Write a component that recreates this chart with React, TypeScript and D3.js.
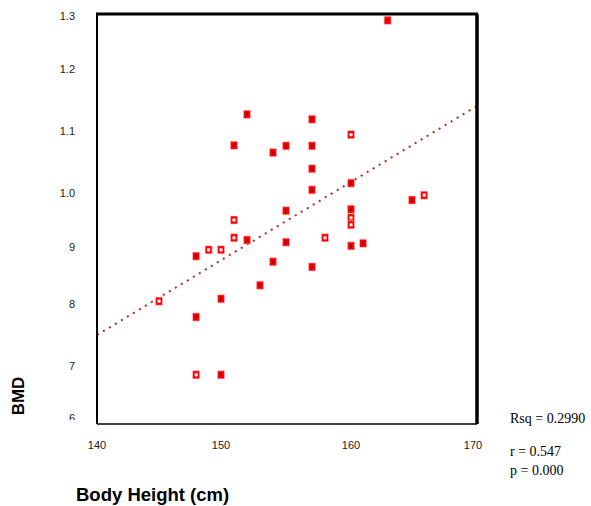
import * as d3 from "d3";

// body height (cm) and BMD
const heights = [
  163, 152, 151, 154, 155, 157, 157, 160, 157, 157, 160, 155, 151, 151, 152,
  155, 158, 160, 160, 160, 160, 161, 165, 166, 148, 149, 150, 154, 157, 153,
  145, 150, 148, 148, 150,
];
const bmd = [
  1.292, 1.127, 1.077, 1.065, 1.076, 1.119, 1.076, 1.094, 1.039, 1.005, 1.016,
  0.967, 0.95, 0.917, 0.913, 0.909, 0.917, 0.97, 0.954, 0.941, 0.902, 0.907,
  0.987, 0.996, 0.884, 0.895, 0.895, 0.874, 0.865, 0.833, 0.805, 0.809, 0.779,
  0.683, 0.683,
];
// open (hollow) markers
const openMarker = [
  false, false, false, false, false, false, false, true, false, false, false,
  false, true, true, false, false, true, false, true, true, false, false,
  false, true, false, true, true, false, false, false, true, false, false,
  true, false,
];

const xTicks = [140, 150, 160, 170];
const yTicks = [0.6, 0.7, 0.8, 0.9, 1.0, 1.1, 1.2, 1.3];
const yTickLabels = ["6", "7", "8", "9", "1.0", "1.1", "1.2", "1.3"];

// fitted line end points (x, BMD)
const fitX = [140, 170.3];
const fitY = [0.75, 1.14];

const stats = ["Rsq = 0.2990", "r = 0.547", "p = 0.000"];

export default function App() {
  const width = 591;
  const height = 506;

  // the printed axes are not evenly spaced, so map each tick where it sits
  const x = d3.scaleLinear(xTicks, [97, 221, 351, 473]);
  const y = d3.scaleLinear(yTicks, [418, 366, 304, 247, 193, 131, 69, 16]);

  const frameLeft = 97;
  const frameRight = 477;
  const frameTop = 14;
  const frameBottom = 424;

  const line = d3
    .line<number>()
    .x((d) => x(fitX[d]))
    .y((d) => y(fitY[d]));

  const sans = "'Liberation Sans', Arial, sans-serif";
  const serif = "'Liberation Serif', 'Times New Roman', serif";

  return (
    <svg
      width={width}
      height={height}
      style={{ position: "absolute", left: 0, top: 0, background: "#fff" }}
    >
      <defs>
        <clipPath id="yclip">
          <rect x={0} y={0} width={90} height={420} />
        </clipPath>
      </defs>

      <g fontFamily={sans} fontSize={11} fill="#222" clipPath="url(#yclip)">
        {yTicks.map((t, i) => (
          <text key={t} x={75} y={y(t)} dy="0.35em" textAnchor="end">
            {yTickLabels[i]}
          </text>
        ))}
      </g>
      <g fontFamily={sans} fontSize={11} fill="#222">
        {xTicks.map((t) => (
          <text key={t} x={x(t)} y={449} textAnchor="middle">
            {t}
          </text>
        ))}
      </g>

      <path
        d={line([0, 1]) as string}
        fill="none"
        stroke="#b8281e"
        strokeWidth={2}
        strokeDasharray="2 5"
      />

      <g>
        {heights.map((h, i) => {
          const cx = x(h);
          const cy = y(bmd[i]);
          return (
            <g key={i}>
              <rect
                x={cx - 3.5}
                y={cy - 4}
                width={7}
                height={8}
                fill="#ff0000"
                stroke="#ffb8c8"
                strokeWidth={0.6}
              />
              {openMarker[i] ? (
                <rect x={cx - 1.5} y={cy - 1.5} width={3} height={3} fill="#fff" />
              ) : (
                <rect x={cx - 1} y={cy - 2} width={2} height={4} fill="#a00000" />
              )}
            </g>
          );
        })}
      </g>

      <g stroke="#000" fill="none">
        <line x1={frameLeft - 1} x2={frameRight + 1} y1={frameTop} y2={frameTop} strokeWidth={3} />
        <line x1={frameRight} x2={frameRight} y1={frameTop} y2={frameBottom} strokeWidth={3.5} />
        <line x1={frameLeft} x2={frameLeft} y1={frameTop} y2={frameBottom} strokeWidth={2} />
        <line x1={frameLeft} x2={frameRight} y1={frameBottom} y2={frameBottom} strokeWidth={1.5} />
      </g>

      <text
        transform="translate(24,396) rotate(-90)"
        textAnchor="middle"
        fontFamily={sans}
        fontSize={17}
        fontWeight="bold"
        fill="#000"
      >
        BMD
      </text>
      <text x={76} y={501} fontFamily={sans} fontSize={18.5} fontWeight="bold" fill="#000">
        Body Height (cm)
      </text>

      <g fontFamily={serif} fontSize={14} fill="#000">
        <text x={510} y={423}>{stats[0]}</text>
        <text x={510} y={456}>{stats[1]}</text>
        <text x={510} y={475}>{stats[2]}</text>
      </g>
    </svg>
  );
}
